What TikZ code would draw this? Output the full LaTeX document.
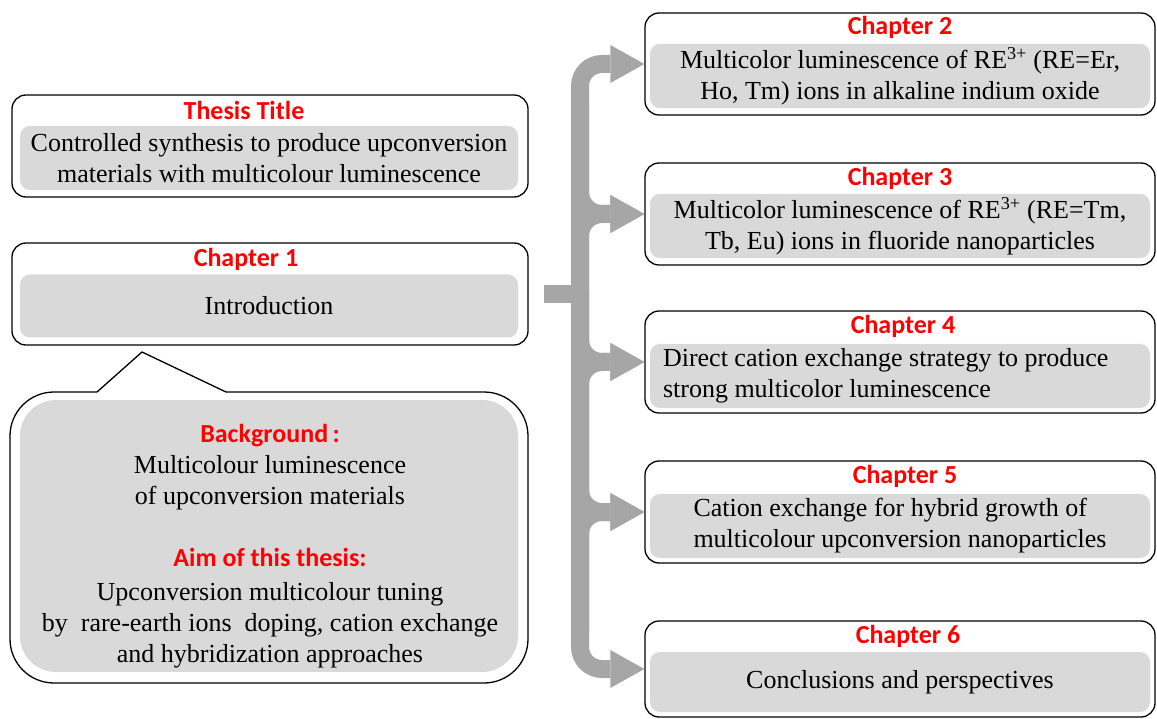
\documentclass[tikz,border=0pt]{standalone}
\usepackage{fontspec}
\setmainfont{Liberation Serif}
\newfontfamily\headfont{Carlito}
\usetikzlibrary{arrows.meta}
\definecolor{boxgray}{HTML}{D9D9D9}
\definecolor{shaftgray}{HTML}{A6A6A6}
\definecolor{headred}{HTML}{FF0000}

\begin{document}
\begin{tikzpicture}[x=1pt, y=-1pt,
	frame/.style={draw, line width=1.3pt, rounded corners=14pt, minimum width=516pt, minimum height=102pt},
	body/.style={fill=boxgray, rounded corners=10pt, minimum width=498pt, minimum height=64pt, align=center, font=\fontsize{26}{31}\selectfont},
	head/.style={text=headred, font=\headfont\bfseries\fontsize{26}{31}\selectfont},
	trunk/.style={draw=shaftgray, line width=18pt},
	branch/.style={trunk, rounded corners=22pt, -{Triangle[width=38pt, length=34pt, line width=0pt]}}]
		\useasboundingbox (0,0) rectangle (1157,719);

		% left column
		\node[frame] (thesisframe) at (270,146) {};
		\node[body] (thesis) at (269,158) {Controlled synthesis to produce upconversion\\materials with multicolour luminescence};
		\node[head] (thesistitle) at (244,110) {Thesis Title};

		\node[frame] (ch1frame) at (270,294) {};
		\node[body, minimum height=63pt] (ch1) at (269,306) {Introduction};
		\node[head] (ch1title) at (246,259) {Chapter 1};

		% callout
		\fill[boxgray, rounded corners=36pt] (20,400) rectangle (518,672);
		\node[align=center, font=\fontsize{26}{31}\selectfont] (aim) at (270,546) {{\headfont\bfseries\color{headred}Background\,:}\\Multicolour luminescence\\of upconversion materials\\[31pt]{\headfont\bfseries\color{headred}Aim of this thesis:}\\[3pt]Upconversion multicolour tuning\\by\ \ rare-earth ions\ \ doping, cation exchange\\and hybridization approaches};
		\draw[line width=1.3pt, rounded corners=44pt] (97,392) -- (10,392) -- (10,683) -- (528,683) -- (528,392) -- (226,392);
		\draw[line width=1.3pt, line cap=round] (226,392) -- (142,352) -- (97,392);

		% right column
		\node[frame, minimum width=510pt] (ch2frame) at (900,64) {};
		\node[body, minimum width=500pt] (ch2) at (900,76) {Multicolor luminescence of RE\textsuperscript{3+} (RE=Er,\\Ho, Tm) ions in alkaline indium oxide};
		\node[head] (ch2title) at (900,27) {Chapter 2};

		\node[frame, minimum width=510pt] (ch3frame) at (900,214) {};
		\node[body, minimum width=500pt] (ch3) at (900,226) {Multicolor luminescence of RE\textsuperscript{3+} (RE=Tm,\\Tb, Eu) ions in fluoride nanoparticles};
		\node[head] (ch3title) at (900,178) {Chapter 3};

		\node[frame, minimum width=510pt] (ch4frame) at (900,362) {};
		\node[body, minimum width=500pt, align=flush left, text width=474pt] (ch4) at (900,376) {Direct cation exchange strategy to produce\\strong multicolor luminescence};
		\node[head] (ch4title) at (903,326) {Chapter 4};

		\node[frame, minimum width=510pt] (ch5frame) at (900,512) {};
		\node[body, minimum width=500pt, align=left] (ch5) at (900,526) {Cation exchange for hybrid growth of\\multicolour upconversion nanoparticles};
		\node[head] (ch5title) at (905,476) {Chapter 5};

		\node[frame, minimum width=510pt, minimum height=96pt] (ch6frame) at (900,669) {};
		\node[body, minimum width=500pt, minimum height=60pt] (ch6) at (900,682) {Conclusions and perspectives};
		\node[head] (ch6title) at (908,636) {Chapter 6};

		% gray arrows
		\coordinate (hub) at (580,294);
		\draw[trunk] ([xshift=15pt]ch1frame.east) -- (hub);
		\draw[branch] (hub) |- (ch2frame.west);
		\draw[branch] (hub) |- (ch3frame.west);
		\draw[branch] ([yshift=-40pt]hub |- ch2frame.west) |- (ch3frame.west);
		\draw[branch] (hub) |- (ch4frame.west);
		\draw[branch] ([yshift=40pt]hub |- ch6frame.west) |- (ch4frame.west);
		\draw[branch] (hub) |- (ch5frame.west);
		\draw[branch] ([yshift=40pt]hub |- ch6frame.west) |- (ch5frame.west);
		\draw[branch] (hub) |- (ch6frame.west);
	\end{tikzpicture}
\end{document}
